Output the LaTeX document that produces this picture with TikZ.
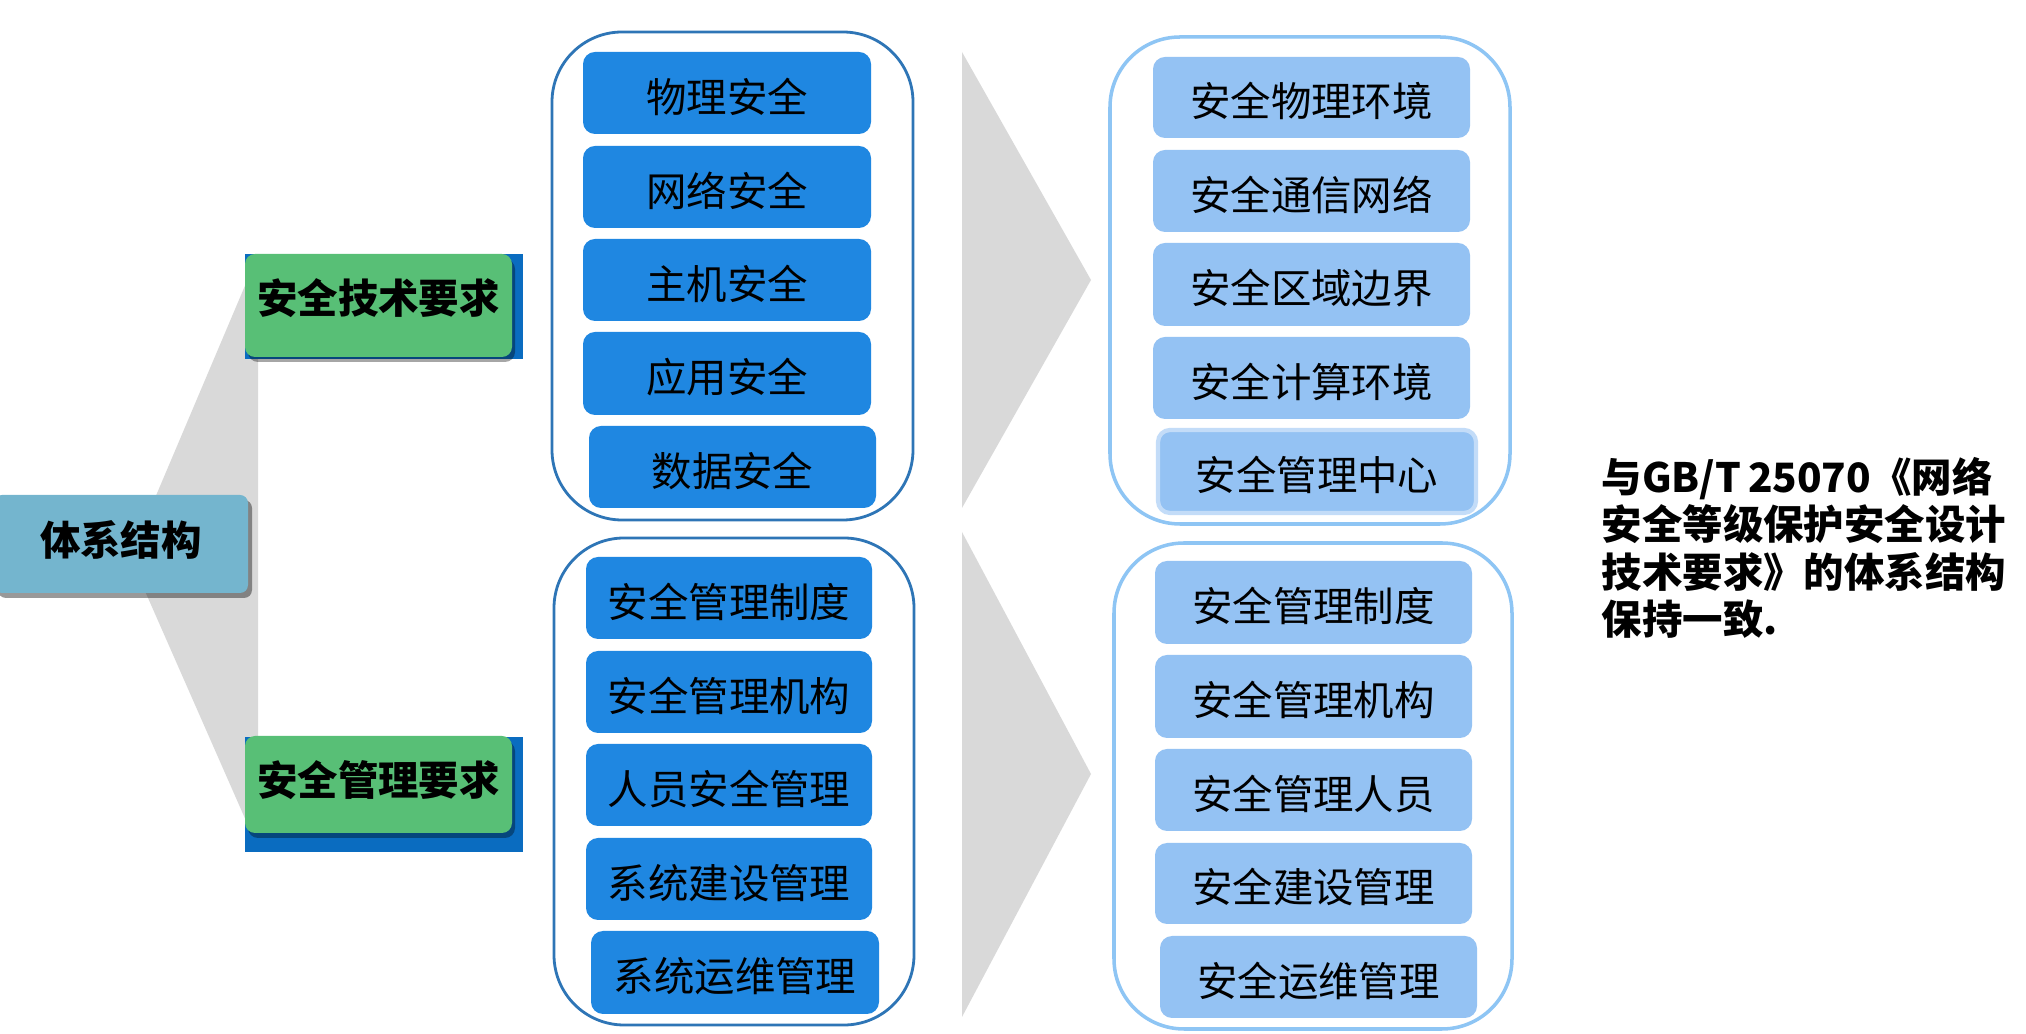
\documentclass[tikz,border=0pt]{standalone}
\usepackage{fontspec}
\setmainfont{Noto Sans CJK SC}
\usetikzlibrary{shadows}
\definecolor{bbox}{HTML}{1F87E1}
\definecolor{lbox}{HTML}{94C2F3}
\definecolor{lline}{HTML}{2E75B6}
\definecolor{rline}{HTML}{8EC5F4}
\definecolor{fan}{HTML}{D9D9D9}
\definecolor{gbox}{HTML}{58BF76}
\definecolor{ublue}{HTML}{0A6CC0}
\definecolor{tbox}{HTML}{74B5CE}
\definecolor{glow}{HTML}{C3DCF8}
\newcommand\bx[7]{\node[#7, minimum width={(#4-#2)*0.01cm}, minimum height={(#5-#3)*0.01cm}] (#1) at ({(#2+#4)/2},{(#3+#5)/2}) {#6};}
\newcommand\dn[1]{\raisebox{-0.05cm}[0.8em][0.1em]{#1}}
\newcommand\up[1]{\raisebox{0.06cm}[0.8em][0.1em]{#1}}
\newcommand\upa[1]{\raisebox{0.03cm}[0.8em][0.1em]{#1}}
\tikzset{
  txt/.style={font=\fontsize{11.5}{13.4}\selectfont, text=black, inner sep=0pt},
  btxt/.style={font=\bfseries\fontsize{11.5}{13.4}\selectfont, text=black, inner sep=0pt},
  dbox/.style={txt, fill=bbox, rounded corners=0.12cm},
  lbx/.style={txt, fill=lbox, rounded corners=0.12cm},
  lcont/.style={inner sep=0pt, rounded corners=0.7cm, fill=white, draw=lline, line width=0.8pt},
  rcont/.style={inner sep=0pt, rounded corners=0.7cm, fill=white, draw=rline, line width=1pt},
  under/.style={inner sep=0pt, fill=ublue},
  gbx/.style={btxt, fill=gbox, rounded corners=0.1cm, drop shadow={shadow xshift=0.03cm, shadow yshift=-0.05cm, opacity=0.35, fill=black}},
  rootbx/.style={btxt, fill=tbox, rounded corners=0.08cm, drop shadow={shadow xshift=0.04cm, shadow yshift=-0.05cm, opacity=0.4, fill=black}},
  shade/.style={fill=fan}
}
\begin{document}
\begin{tikzpicture}[x=0.01cm,y=-0.01cm]
\useasboundingbox (0,0) rectangle (2026,1034);
% gray fan and chevrons
\fill[shade] (130,557) -- (258,255) -- (258,848) -- cycle;
\fill[shade] (962,52) -- (1091,280) -- (962,508) -- cycle;
\fill[shade] (962,532) -- (1091,774) -- (962,1017) -- cycle;
% root
\bx{root}{-6}{495}{248}{593}{\upa{体系结构}}{rootbx}
% green headings
\bx{u1}{245}{254}{523}{359}{}{under}
\bx{g1}{245}{254}{512}{357}{\up{安全技术要求}}{gbx}
\bx{u2}{245}{737}{523}{852}{}{under}
\bx{g2}{245}{736}{512}{833}{\upa{安全管理要求}}{gbx}
% left containers
\bx{c1}{552}{32}{913}{520}{}{lcont}
\bx{c2}{554}{538}{914}{1025}{}{lcont}
\bx{a1}{583}{52}{871}{134}{\dn{物理安全}}{dbox}
\bx{a2}{583}{146}{871}{228}{\dn{网络安全}}{dbox}
\bx{a3}{583}{239}{871}{321}{\dn{主机安全}}{dbox}
\bx{a4}{583}{332}{871}{415}{\dn{应用安全}}{dbox}
\bx{a5}{589}{426}{876}{508}{\dn{数据安全}}{dbox}
\bx{b1}{586}{557}{872}{639}{\dn{安全管理制度}}{dbox}
\bx{b2}{586}{651}{872}{733}{\dn{安全管理机构}}{dbox}
\bx{b3}{586}{744}{872}{826}{\dn{人员安全管理}}{dbox}
\bx{b4}{586}{838}{872}{920}{\dn{系统建设管理}}{dbox}
\bx{b5}{591}{931}{879}{1014}{\dn{系统运维管理}}{dbox}
% right containers
\bx{c3}{1110}{37}{1510}{524}{}{rcont}
\bx{c4}{1114}{543}{1512}{1029}{}{rcont}
\bx{p1}{1153}{57}{1470}{138}{\dn{安全物理环境}}{lbx}
\bx{p2}{1153}{150}{1470}{232}{\dn{安全通信网络}}{lbx}
\bx{p3}{1153}{243}{1470}{326}{\dn{安全区域边界}}{lbx}
\bx{p4}{1153}{337}{1470}{419}{\dn{安全计算环境}}{lbx}
\bx{p5}{1158}{430}{1476}{513}{\dn{安全管理中心}}{lbx, draw=glow, line width=1.2pt}
\bx{q1}{1155}{561}{1472}{644}{\dn{安全管理制度}}{lbx}
\bx{q2}{1155}{655}{1472}{738}{\dn{安全管理机构}}{lbx}
\bx{q3}{1155}{749}{1472}{831}{\dn{安全管理人员}}{lbx}
\bx{q4}{1155}{843}{1472}{924}{\dn{安全建设管理}}{lbx}
\bx{q5}{1160}{936}{1477}{1018}{\dn{安全运维管理}}{lbx}
% note
\node[btxt, align=left, anchor=north west] (note) at (1601,457) {与GB/T\,25070《网络\\安全等级保护安全设计\\技术要求》的体系结构\\保持一致.};
\end{tikzpicture}
\end{document}
